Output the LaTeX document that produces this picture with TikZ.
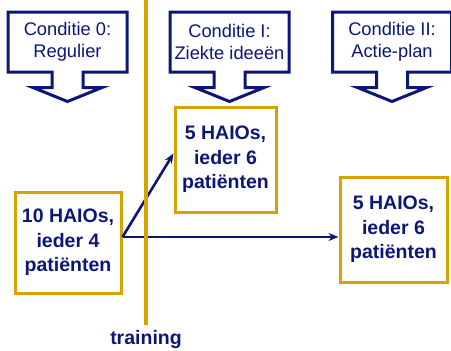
\documentclass[tikz,border=0pt]{standalone}
\usepackage{fontspec}
\setmainfont{Liberation Sans}
\usetikzlibrary{arrows.meta}
\usetikzlibrary{positioning}
\usetikzlibrary{calc}
\usetikzlibrary{shapes.arrows}
\definecolor{navy}{RGB}{12,22,118}
\definecolor{gold}{RGB}{214,163,0}

\begin{document}
\begin{tikzpicture}[
    x=1pt, y=-1pt,
    condBox/.style={
        arrow box, draw=navy, line width=3pt, fill=white,
        arrow box arrows={south:28pt},
        arrow box shaft width=31pt,
        arrow box head extend=19pt,
        arrow box tip angle=136,
        minimum width=119pt,
        minimum height=60pt,
        inner sep=0pt,
        text=navy, font=\fontsize{18.3}{22}\selectfont,
        align=center
    },
    groupBox/.style={
        rectangle, draw=gold, line width=3pt, fill=white,
        inner sep=0pt,
        text=navy, font=\fontsize{19.5}{24.5}\selectfont\bfseries,
        align=center
    },
    flow/.style={-{Stealth[length=10pt,width=8pt]}, draw=navy, line width=2.6pt}
]
\useasboundingbox (0,0) rectangle (451,351);

\node[condBox] (c0) at (67.5,42) {Conditie 0:\\Regulier};
\node[condBox] (c1) at (229.5,42) {Conditie I:\\Ziekte ideeën};
\node[condBox] (c2) at (392,42) {Conditie II:\\Actie-plan};

\node[groupBox, minimum width=106pt, minimum height=101pt] (start) at (68,242.5) {10 HAIOs,\\ieder 4\\patiënten};
\node[groupBox, minimum width=101pt, minimum height=105pt] (ziekte) at (225.5,159.5) {5 HAIOs,\\ieder 6\\patiënten};
\node[groupBox, minimum width=107pt, minimum height=105pt] (actie) at (393.5,229.5) {5 HAIOs,\\ieder 6\\patiënten};

\coordinate (fork) at ($(start.east)+(0,-5.5)$);
\draw[flow] (fork) -- (fork -| actie.west);
\draw[flow] (fork) -- ($(ziekte.west)+(0,-6)$);

% training line
\coordinate (lineTop) at (146,0);
\node[text=navy, font=\fontsize{19.5}{22}\selectfont\bfseries, inner sep=1pt] (train) at (146,339) {training};
\draw[gold, line width=4.5pt] (lineTop) -- ($(train.north)+(0,-4)$);
\end{tikzpicture}
\end{document}
